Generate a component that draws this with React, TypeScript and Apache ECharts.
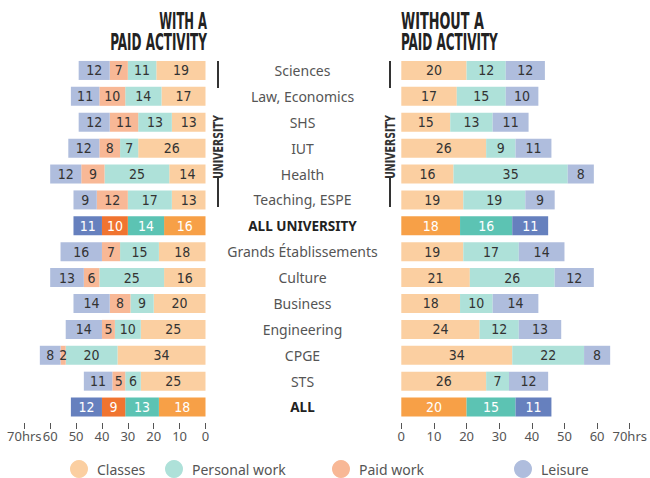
import React, { useEffect, useRef } from "react";
import * as echarts from "echarts";

const categories = [
  "Sciences",
  "Law, Economics",
  "SHS",
  "IUT",
  "Health",
  "Teaching, ESPE",
  "ALL UNIVERSITY",
  "Grands Établissements",
  "Culture",
  "Business",
  "Engineering",
  "CPGE",
  "STS",
  "ALL",
];
const highlighted = ["ALL UNIVERSITY", "ALL"];

// With a paid activity (hours per week)
const withClasses = [19, 17, 13, 26, 14, 13, 16, 18, 16, 20, 25, 34, 25, 18];
const withPersonal = [11, 14, 13, 7, 25, 17, 14, 15, 25, 9, 10, 20, 6, 13];
const withPaid = [7, 10, 11, 8, 9, 12, 10, 7, 6, 8, 5, 2, 5, 9];
const withLeisure = [12, 11, 12, 12, 12, 9, 11, 16, 13, 14, 14, 8, 11, 12];

// Without a paid activity
const withoutClasses = [20, 17, 15, 26, 16, 19, 18, 19, 21, 18, 24, 34, 26, 20];
const withoutPersonal = [12, 15, 13, 9, 35, 19, 16, 17, 26, 10, 12, 22, 7, 15];
const withoutLeisure = [12, 10, 11, 11, 8, 9, 11, 14, 12, 14, 13, 8, 12, 11];

const axisTicks = [0, 10, 20, 30, 40, 50, 60, 70];

const LIGHT = {
  Classes: "#FBCFA1",
  "Personal work": "#AEE1D9",
  "Paid work": "#F8B896",
  Leisure: "#AFBDDD",
};
const DARK = {
  Classes: "#F7A047",
  "Personal work": "#5CC3B3",
  "Paid work": "#F07430",
  Leisure: "#6680BE",
};

const NARROW = "'Liberation Sans Narrow', 'DejaVu Sans Condensed', sans-serif";
const SANS = "'Noto Sans', 'Open Sans', sans-serif";

function buildData(values: number[], name: string) {
  return values.map((v, i) =>
    highlighted.includes(categories[i])
      ? { value: v, itemStyle: { color: (DARK as any)[name] }, label: { color: "#ffffff" } }
      : v
  );
}

function makeSeries(name: string, values: number[], side: number) {
  return {
    type: "bar",
    name,
    stack: side === 0 ? "with" : "without",
    xAxisIndex: side,
    yAxisIndex: side,
    barWidth: 19,
    itemStyle: { color: (LIGHT as any)[name] },
    label: {
      show: true,
      position: "inside",
      formatter: "{c}",
      color: "#333333",
      fontFamily: NARROW,
      fontSize: 14,
    },
    emphasis: { disabled: true },
    data: buildData(values, name),
  };
}

const legendNames = ["Classes", "Personal work", "Paid work", "Leisure"];
const legendLefts = [70, 165, 332, 514];

export default function App() {
  const ref = useRef<HTMLDivElement>(null);
  useEffect(() => {
    document.body.style.margin = "0";
    if (!ref.current) return;
    const chart = echarts.init(ref.current, undefined, { renderer: "svg" });
    const gridTop = 57.5;
    const gridHeight = 362.5;
    const xAxisCommon = {
      type: "value",
      min: axisTicks[0],
      max: axisTicks[axisTicks.length - 1],
      interval: 10,
      offset: 3,
      axisLine: { show: false },
      splitLine: { show: false },
      axisTick: { show: true, length: 6, lineStyle: { color: "#555555", width: 1 } },
      axisLabel: {
        margin: 6,
        fontFamily: SANS,
        fontSize: 13,
        color: "#555555",
        formatter: (v: number) => (v === 70 ? "70hrs" : String(v)),
      },
    };
    const titleFont = `bold 23px ${NARROW}`;
    const option: any = {
      animation: false,
      grid: [
        { left: 24.3, top: gridTop, width: 181.2, height: gridHeight },
        { left: 401.3, top: gridTop, width: 228.7, height: gridHeight },
      ],
      xAxis: [
        { ...xAxisCommon, gridIndex: 0, inverse: true },
        { ...xAxisCommon, gridIndex: 1 },
      ],
      yAxis: [
        {
          type: "category",
          gridIndex: 0,
          data: categories,
          inverse: true,
          position: "right",
          axisLine: { show: false },
          axisTick: { show: false },
          axisLabel: {
            margin: 97,
            align: "center",
            formatter: (v: string) => (highlighted.includes(v) ? `{b|${v}}` : `{n|${v}}`),
            rich: {
              n: { fontFamily: SANS, fontSize: 14, color: "#555555" },
              b: { fontFamily: SANS, fontSize: 13.5, fontWeight: "bold", color: "#222222" },
            },
          },
        },
        {
          type: "category",
          gridIndex: 1,
          data: categories,
          inverse: true,
          axisLine: { show: false },
          axisTick: { show: false },
          axisLabel: { show: false },
        },
      ],
      legend: legendNames.map((n, i) => ({
        data: [n],
        left: legendLefts[i],
        top: 460,
        padding: 0,
        icon: "circle",
        itemWidth: 18,
        itemHeight: 18,
        selectedMode: false,
        textStyle: { fontFamily: SANS, fontSize: 14, color: "#555555", padding: [0, 0, 0, 4] },
      })),
      series: [
        makeSeries("Classes", withClasses, 0),
        makeSeries("Personal work", withPersonal, 0),
        makeSeries("Paid work", withPaid, 0),
        makeSeries("Leisure", withLeisure, 0),
        makeSeries("Classes", withoutClasses, 1),
        makeSeries("Personal work", withoutPersonal, 1),
        makeSeries("Leisure", withoutLeisure, 1),
      ],
      graphic: [
        {
          type: "text",
          x: 207,
          y: 21,
          scaleX: 0.56,
          style: { text: "WITH A", align: "right", verticalAlign: "middle", font: titleFont, fill: "#222222" },
        },
        {
          type: "text",
          x: 207,
          y: 42.5,
          scaleX: 0.58,
          style: { text: "PAID ACTIVITY", align: "right", verticalAlign: "middle", font: titleFont, fill: "#222222" },
        },
        {
          type: "text",
          x: 401,
          y: 21,
          scaleX: 0.62,
          style: { text: "WITHOUT A", align: "left", verticalAlign: "middle", font: titleFont, fill: "#222222" },
        },
        {
          type: "text",
          x: 401,
          y: 42.5,
          scaleX: 0.58,
          style: { text: "PAID ACTIVITY", align: "left", verticalAlign: "middle", font: titleFont, fill: "#222222" },
        },
        ...[218, 390].flatMap((x) => [
          { type: "line", shape: { x1: x, y1: 61, x2: x, y2: 88 }, style: { stroke: "#333333", lineWidth: 2 } },
          { type: "line", shape: { x1: x, y1: 178, x2: x, y2: 207 }, style: { stroke: "#333333", lineWidth: 2 } },
          {
            type: "text",
            x: x,
            y: 147,
            rotation: Math.PI / 2,
            scaleX: 0.75,
            style: {
              text: "UNIVERSITY",
              align: "center",
              verticalAlign: "middle",
              font: `bold 14px ${NARROW}`,
              fill: "#333333",
            },
          },
        ]),
      ],
    };
    chart.setOption(option);
    return () => chart.dispose();
  }, []);
  return <div ref={ref} style={{ width: 650, height: 478 }} />;
}
